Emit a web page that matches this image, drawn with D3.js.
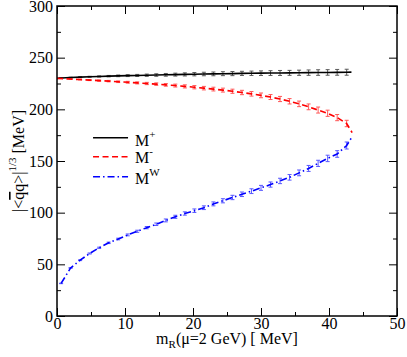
<!DOCTYPE html>
<html>
<head>
<meta charset="utf-8">
<script src="https://cdn.jsdelivr.net/npm/d3@7"></script>
<style>
  body { margin: 0; background: #fff; }
  svg text { font-family: "Liberation Serif", "Times New Roman", Times, serif; }
</style>
</head>
<body>
<div id="chart"></div>
<script>
// quark mass grid (MeV) shared by the three solutions
const mR = [0.6, 2.0, 3.4, 4.8, 6.2, 7.6, 9.0, 10.4, 11.8, 13.2, 14.6, 16.0, 17.4, 18.8, 20.2,
            21.6, 23.0, 24.4, 25.8, 27.2, 28.6, 30.0, 31.4, 32.8, 34.2, 35.6, 37.0, 38.4, 39.8, 41.2, 42.6];

const condPlus = [230.3, 230.8, 231.2, 231.5, 231.8, 232.1, 232.4, 232.6, 232.8, 233.0, 233.2, 233.4, 233.6, 233.8, 234.0,
                  234.2, 234.3, 234.5, 234.6, 234.8, 234.9, 235.0, 235.1, 235.2, 235.3, 235.4, 235.5, 235.6, 235.7, 235.8, 235.9];
const errPlus = [0.2, 0.3, 0.4, 0.5, 0.6, 0.7, 0.8, 0.9, 1.0, 1.1, 1.2, 1.3, 1.4, 1.5, 1.6,
                 1.7, 1.8, 1.9, 2.0, 2.0, 2.1, 2.2, 2.3, 2.4, 2.4, 2.5, 2.6, 2.7, 2.7, 2.8, 2.9];

const condMinus = [229.8, 229.3, 228.8, 228.3, 227.8, 227.3, 226.7, 226.2, 225.6, 225.0, 224.4, 223.7, 223.0, 222.2, 221.4,
                   220.5, 219.6, 218.6, 217.5, 216.3, 215.0, 213.5, 211.9, 210.0, 207.8, 205.3, 202.4, 199.3, 196.2, 192.0, 186.3];
const errMinus = [0.2, 0.3, 0.4, 0.5, 0.6, 0.7, 0.8, 0.9, 1.0, 1.1, 1.2, 1.3, 1.4, 1.5, 1.6,
                  1.7, 1.8, 1.9, 2.0, 2.1, 2.2, 2.3, 2.4, 2.5, 2.6, 2.7, 2.8, 2.9, 3.0, 3.0, 3.1];

const condW = [31.5, 46.5, 54.0, 60.5, 66.0, 70.8, 74.5, 78.5, 82.0, 85.5, 88.8, 92.5, 96.0, 99.2, 101.9,
               104.8, 108.5, 111.5, 114.7, 117.8, 120.8, 124.0, 127.2, 130.7, 134.2, 138.5, 142.8, 147.7, 152.5, 156.8, 165.0];
const errW = [0.2, 0.3, 0.4, 0.5, 0.6, 0.7, 0.8, 0.9, 1.0, 1.1, 1.2, 1.4, 1.5, 1.6, 1.7,
              1.8, 1.9, 2.0, 2.1, 2.2, 2.3, 2.4, 2.5, 2.6, 2.7, 2.8, 2.9, 3.0, 3.1, 3.2, 3.4];

// where the curves start (chiral limit) and where they end (bifurcation)
const startPlus = [0, 230], endPlus = [43.3, 236.0];
const startMinus = [0, 230], endMinus = [43.4, 177.5];
const endW = [43.4, 173.5];

const xTicks = [0, 10, 20, 30, 40, 50];
const yTicks = [0, 50, 100, 150, 200, 250, 300];
const xMinor = [5, 15, 25, 35, 45];
const yMinor = [25, 75, 125, 175, 225, 275];

const FONT = "'Liberation Serif', 'Times New Roman', Times, serif";

const margin = {top: 6, right: 10, bottom: 41, left: 57};
const W = 407, H = 357;
const width = W - margin.left - margin.right;
const height = H - margin.top - margin.bottom;

const svg = d3.select("#chart").append("svg")
    .attr("width", W)
    .attr("height", H)
    .attr("font-family", FONT)
    .append("g")
    .attr("transform", "translate(" + margin.left + "," + margin.top + ")");

const x = d3.scaleLinear().domain([0, 50]).range([0, width]);
const y = d3.scaleLinear().domain([0, 300]).range([height, 0]);

const series = [
    {name: "+", vals: condPlus, err: errPlus, color: "#000000", dash: null,
     pts: [startPlus].concat(mR.map((m, i) => [m, condPlus[i]]), [endPlus])},
    {name: "-", vals: condMinus, err: errMinus, color: "#ff0000", dash: "6,3.5",
     pts: [startMinus].concat(mR.map((m, i) => [m, condMinus[i]]), [endMinus])},
    {name: "W", vals: condW, err: errW, color: "#0000ff", dash: "7,3,1.5,3",
     pts: mR.map((m, i) => [m, condW[i]]).concat([endW])}
];

const line = d3.line()
    .x(function(d) { return x(d[0]); })
    .y(function(d) { return y(d[1]); });

// error bars
series.forEach(function(s) {
    const g = svg.append("g").attr("stroke", s.color).attr("stroke-width", 1).attr("opacity", 0.65);
    mR.forEach(function(m, i) {
        const cx = x(m), y1 = y(s.vals[i] - s.err[i]), y2 = y(s.vals[i] + s.err[i]);
        g.append("line").attr("x1", cx).attr("x2", cx).attr("y1", y1).attr("y2", y2);
        g.append("line").attr("x1", cx - 2).attr("x2", cx + 2).attr("y1", y1).attr("y2", y1);
        g.append("line").attr("x1", cx - 2).attr("x2", cx + 2).attr("y1", y2).attr("y2", y2);
    });
});

// curves
series.forEach(function(s) {
    svg.append("path")
        .datum(s.pts)
        .attr("fill", "none")
        .attr("stroke", s.color)
        .attr("stroke-width", 1.6)
        .attr("stroke-dasharray", s.dash)
        .attr("d", line);
});

// axes: major and minor ticks on all four sides, pointing inward
function addAxis(axisFn, scale, transform, major, minor, labels) {
    const a = svg.append("g").attr("transform", transform)
        .call(axisFn(scale).tickValues(major).tickSize(-8).tickSizeOuter(0).tickPadding(labels ? 2 : 0)
            .tickFormat(labels ? d3.format("d") : ""));
    a.attr("font-family", FONT);
    a.select(".domain").remove();
    a.selectAll("line").attr("stroke", "#000").attr("stroke-width", 1);
    a.selectAll("text").attr("font-size", 16).attr("fill", "#000");
    const b = svg.append("g").attr("transform", transform)
        .call(axisFn(scale).tickValues(minor).tickSize(-4).tickSizeOuter(0).tickFormat(""));
    b.select(".domain").remove();
    b.selectAll("line").attr("stroke", "#000").attr("stroke-width", 1);
    return a;
}

addAxis(d3.axisBottom, x, "translate(0," + height + ")", xTicks, xMinor, true);
addAxis(d3.axisTop, x, "translate(0,0)", xTicks, xMinor, false);
const yAx = addAxis(d3.axisLeft, y, "translate(0,0)", yTicks, yMinor, true);
yAx.selectAll("text").attr("x", -4);
addAxis(d3.axisRight, y, "translate(" + width + ",0)", yTicks, yMinor, false);

svg.append("rect")
    .attr("width", width)
    .attr("height", height)
    .attr("fill", "none")
    .attr("stroke", "#000")
    .attr("stroke-width", 1.5);

// legend
const legend = svg.append("g").attr("transform", "translate(" + x(5.3) + ",0)");
series.forEach(function(s, i) {
    const ly = [131.7, 150.7, 170.7][i];
    legend.append("line")
        .attr("x1", 0).attr("x2", 35)
        .attr("y1", ly).attr("y2", ly)
        .attr("stroke", s.color)
        .attr("stroke-width", 1.6)
        .attr("stroke-dasharray", s.dash);
    const t = legend.append("text")
        .attr("x", 42)
        .attr("y", [140, 156.7, 178][i])
        .attr("font-size", 16)
        .attr("fill", "#000");
    t.append("tspan").text("M");
    t.append("tspan").attr("dy", -8).attr("font-size", 11).text(s.name);
});

// axis titles
const xt = svg.append("text")
    .attr("x", width / 2)
    .attr("y", height + 27.5)
    .attr("text-anchor", "middle")
    .attr("font-size", 16)
    .attr("fill", "#000");
xt.append("tspan").text("m");
xt.append("tspan").attr("dy", 4).attr("font-size", 11).text("R");
xt.append("tspan").attr("dy", -4).text("(\u03bc=2 GeV) [ MeV]");

const yt = svg.append("text")
    .attr("transform", "translate(-33," + (212 - margin.top) + ") rotate(-90)")
    .attr("font-size", 16)
    .attr("fill", "#000");
yt.append("tspan").text("|<");
yt.append("tspan").style("text-decoration", "overline").text("q");
yt.append("tspan").text("q>|");
yt.append("tspan").attr("dy", -8).attr("font-size", 11).text("1/3");
yt.append("tspan").attr("dy", 8).text(" [MeV]");
</script>
</body>
</html>
